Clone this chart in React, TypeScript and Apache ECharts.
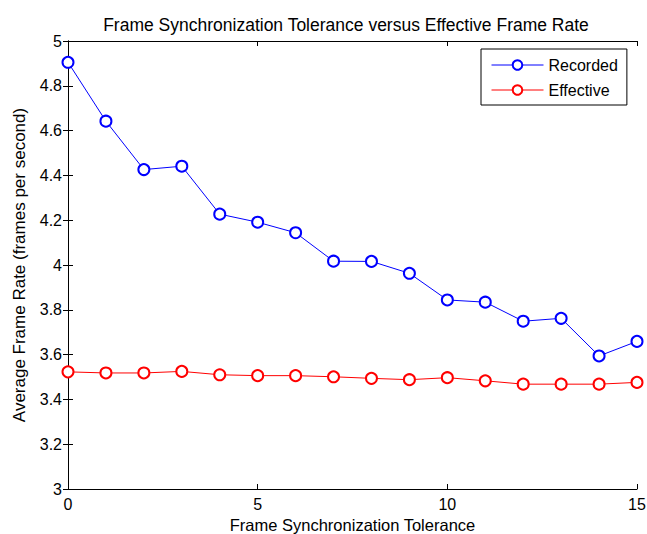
import React, { useEffect, useRef } from "react";
import * as echarts from "echarts";

// Frame synchronization tolerance (x) and measured frame rates
const tolerance = [0, 1, 2, 3, 4, 5, 6, 7, 8, 9, 10, 11, 12, 13, 14, 15];
const recorded = [4.905, 4.642, 4.426, 4.441, 4.227, 4.191, 4.144, 4.017, 4.016, 3.963, 3.844, 3.834, 3.749, 3.762, 3.594, 3.659];
const effective = [3.523, 3.518, 3.518, 3.525, 3.51, 3.506, 3.506, 3.501, 3.494, 3.488, 3.497, 3.483, 3.468, 3.468, 3.468, 3.476];
const xTicks = [0, 5, 10, 15];

const FONT = "'Liberation Sans', Arial, Helvetica, sans-serif";

export default function App() {
  const ref = useRef<HTMLDivElement>(null);

  useEffect(() => {
    if (!ref.current) return;
    const chart = echarts.init(ref.current, undefined, { renderer: "svg" });
    const axisLine = { show: true, lineStyle: { color: "#000", width: 1 } };
    const tick = { show: true, inside: true, length: 5, lineStyle: { color: "#000" } };
    chart.setOption({
      animation: false,
      backgroundColor: "#fff",
      textStyle: { fontFamily: FONT },
      title: {
        text: "Frame Synchronization Tolerance versus Effective Frame Rate",
        left: 341,
        textAlign: "center",
        top: 11,
        textStyle: { fontFamily: FONT, fontSize: 17.5, fontWeight: "normal", color: "#000" },
      },
      grid: {
        left: 68,
        right: 10,
        top: 41,
        bottom: 45,
        show: false,
        containLabel: false,
        outerBoundsMode: "none",
      },
      legend: {
        left: 481,
        top: 49,
        orient: "vertical",
        backgroundColor: "#fff",
        borderColor: "#000",
        borderWidth: 1,
        borderRadius: 0,
        padding: [8, 9, 7, 10],
        itemGap: 9,
        itemWidth: 52,
        itemHeight: 12,
        lineStyle: { width: 1 },
        itemStyle: { borderWidth: 1 },
        textStyle: { fontFamily: FONT, fontSize: 16, lineHeight: 16, color: "#000" },
        data: ["Recorded", "Effective"],
      },
      xAxis: [
        {
          type: "value",
          min: 0,
          max: 15,
          interval: 5,
          name: "Frame Synchronization Tolerance",
          nameLocation: "middle",
          nameGap: 26,
          nameTextStyle: { fontFamily: FONT, fontSize: 16.5, color: "#000" },
          axisLine,
          axisTick: tick,
          splitLine: { show: false },
          axisLabel: {
            fontFamily: FONT,
            fontSize: 16,
            color: "#000",
            margin: 7,
            formatter: (v: number) => (xTicks.includes(v) ? String(v) : ""),
          },
        },
        {
          type: "value",
          position: "top",
          min: 0,
          max: 15,
          interval: 5,
          axisLine,
          axisTick: tick,
          axisLabel: { show: false },
          splitLine: { show: false },
        },
      ],
      yAxis: [
        {
          type: "value",
          min: 3,
          max: 5,
          interval: 0.2,
          name: "Average Frame Rate (frames per second)",
          nameLocation: "middle",
          nameGap: 40,
          nameTextStyle: { fontFamily: FONT, fontSize: 17, color: "#000" },
          axisLine,
          axisTick: tick,
          splitLine: { show: false },
          axisLabel: {
            fontFamily: FONT,
            fontSize: 16,
            color: "#000",
            margin: 6,
            formatter: (v: number) => String(Math.round(v * 10) / 10),
          },
        },
        {
          type: "value",
          position: "right",
          min: 3,
          max: 5,
          interval: 0.2,
          axisLine,
          axisTick: tick,
          axisLabel: { show: false },
          splitLine: { show: false },
        },
      ],
      series: [
        {
          name: "Recorded",
          type: "line",
          data: tolerance.map((t, i) => [t, recorded[i]]),
          symbol: "emptyCircle",
          symbolSize: 11,
          color: "#0000ff",
          lineStyle: { color: "#0000ff", width: 1 },
          itemStyle: { color: "#0000ff", borderColor: "#0000ff", borderWidth: 1 },
        },
        {
          name: "Effective",
          type: "line",
          data: tolerance.map((t, i) => [t, effective[i]]),
          symbol: "emptyCircle",
          symbolSize: 11,
          color: "#ff0000",
          lineStyle: { color: "#ff0000", width: 1 },
          itemStyle: { color: "#ff0000", borderColor: "#ff0000", borderWidth: 1 },
        },
      ],
    });
    return () => chart.dispose();
  }, []);

  return (
    <div
      ref={ref}
      style={{ position: "fixed", left: 0, top: 0, width: 647, height: 534, background: "#fff" }}
    />
  );
}
